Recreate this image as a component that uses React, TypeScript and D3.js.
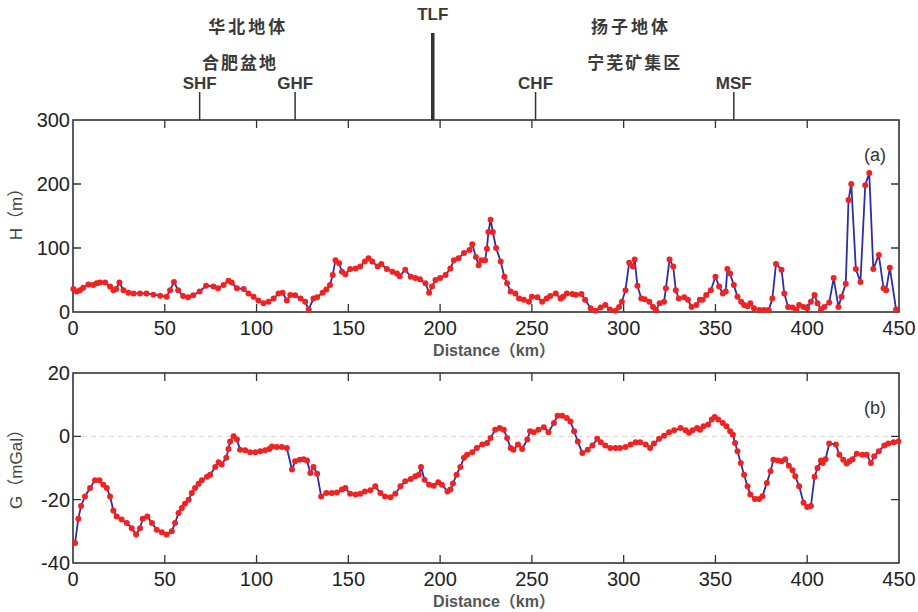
import React, { useRef, useEffect } from "react";
import * as d3 from "d3";

// elevation profile H (m) along distance (km)
const hProfile: [number, number][] = [
    [0.2, 36], [2, 32], [3.8, 34], [5.6, 38], [8.4, 43], [11, 42], [12.9, 45], [14.7, 46], [17.5, 46],
    [20.2, 40], [22, 34], [23.5, 36], [25.3, 46], [27.5, 34], [30.2, 30], [33, 29], [36.5, 29], [40, 29],
    [43.8, 27], [47.5, 25.5], [51, 24], [52.9, 34], [55, 47], [57.3, 34], [60, 25], [62.7, 23], [65.5, 26],
    [69, 32], [72.5, 41], [76.5, 40], [79, 37], [82, 42], [84.7, 49], [86.5, 46], [89.3, 37], [93, 36],
    [95.6, 29], [98.4, 24], [101, 18], [103.8, 13.5], [106.5, 16], [109.3, 21], [112, 29], [114.2, 30],
    [116.5, 18], [118.4, 26.5], [121, 26], [124, 21], [126.5, 16], [128.4, 4], [131, 21], [133, 23],
    [136, 30], [138, 35], [140, 42], [141.5, 58], [143, 81], [145, 76], [146.5, 63], [148.4, 59], [151, 67],
    [154, 68], [156.5, 71], [159, 79], [161, 84], [163, 79], [166, 71], [168, 75], [171, 67], [174, 63],
    [176.5, 60], [178, 56], [181, 66], [184, 55], [186.5, 53], [189, 51], [192, 45], [194, 30], [195.6, 40],
    [197.5, 50], [200, 53], [203, 58], [205.6, 68], [207.5, 81], [210, 84], [213, 92], [216, 97],
    [217.5, 106], [219.5, 86], [221, 73], [222.5, 81], [224.5, 81], [225.5, 99], [226.3, 125],
    [227.5, 144], [228.7, 125], [230.5, 100], [233, 79], [235, 55], [236.5, 45], [238.4, 32], [241, 29],
    [243, 21], [245.6, 19], [248.4, 16], [250, 24], [253, 23], [255.6, 16], [258, 21], [260, 25], [263, 29],
    [265.6, 21], [267, 24], [269, 29], [272, 28], [274, 27], [277, 28], [279, 19], [282, 6], [284.7, 2],
    [287.5, 7], [290, 11], [292.5, 4], [295.6, 2], [297.5, 8], [299, 16], [301, 34], [303, 77], [305, 71],
    [306, 82], [307.5, 41], [309.6, 21], [311.5, 20], [314, 16], [316, 8], [317.6, 3], [319.6, 13.5],
    [322, 16], [323, 37], [325, 82], [327, 71], [328.4, 34], [330, 21], [333, 23], [335, 19], [337, 8],
    [339.6, 11], [341.5, 19], [343, 19], [345, 26.5], [347.5, 34], [350, 55], [352, 40], [354, 29],
    [355.6, 32], [356.5, 67], [358, 60], [360, 42], [362, 24], [364, 16], [365.6, 11], [367.5, 9],
    [369, 13.5], [371, 6], [374, 3], [376.5, 3], [379, 3], [381, 21], [383, 75], [386, 66], [387.5, 29],
    [389.6, 8], [392, 7], [394, 4], [395.6, 11], [398, 8], [400, 6], [402, 16], [404, 26.5], [405.6, 13.5],
    [407.5, 4], [409.3, 8], [412, 15], [414.4, 53], [417, 8], [418.7, 24], [421, 44], [422.5, 175],
    [424, 200], [426.5, 67], [429, 47], [431.6, 198], [433.8, 217], [436, 67], [439, 89], [441.6, 37],
    [443, 34], [445, 69], [448.4, 4],
];

// gravity anomaly G (mGal) along distance (km)
const gProfile: [number, number][] = [
    [1.1, -33.7], [2.9, -26], [4.4, -22], [6.5, -19], [9.3, -16.3], [12, -13.9], [14.4, -13.9],
    [16.5, -15.3], [18.4, -16.3], [20.2, -19], [22, -23.4], [23.8, -25.3], [26.5, -26.3], [29.3, -27.4],
    [32, -29], [34.4, -31], [36.5, -29], [38, -26], [40.5, -25.3], [43, -27.4], [45.6, -29.5],
    [48.4, -30.3], [51, -31], [53.8, -30], [55.6, -27.4], [57.5, -24.2], [59.3, -22.6], [61, -21.3],
    [63, -20], [64.7, -17.9], [66.5, -16.3], [68.4, -15], [70.2, -13.9], [73, -12.8], [74.7, -12.1],
    [77.5, -9.7], [79.3, -8.2], [81, -8.9], [83.5, -6.8], [84.7, -4], [85.6, -1.6], [87.5, 0], [89.3, -1],
    [91, -4.2], [93.8, -4.4], [96.5, -5], [99.3, -5], [102, -4.7], [104.7, -4.4], [107, -4], [108.4, -3.2],
    [111, -3.4], [113.8, -3.4], [116.5, -3.7], [119.3, -10.5], [121, -7.9], [123.5, -7.4], [125.6, -7.2],
    [127.5, -7.6], [129.3, -11.6], [131, -9.7], [133, -11.8], [135.2, -19], [138, -17.9], [141, -17.9],
    [143.8, -17.7], [146.5, -16.8], [148.4, -16.3], [151, -18.1], [154, -18.4], [156.5, -18.1],
    [159, -17.4], [162, -17], [164.7, -15.8], [167.5, -17.9], [170, -19], [173, -19.2], [175.6, -18.1],
    [178.4, -15.8], [181, -14.2], [184, -13.5], [186.5, -12.6], [188.4, -12.1], [189.6, -9.7],
    [191.5, -13.7], [194, -15.3], [196.5, -15.6], [199, -14.5], [201, -15.3], [204, -17.4], [205.6, -16.8],
    [207, -14.9], [209, -12.1], [211, -9.7], [213, -6.8], [214.7, -5.8], [217.5, -5], [220, -3.7],
    [223, -2.6], [225.6, -2.1], [227.5, -0.5], [230, 2.1], [232.5, 2.6], [234.7, 2.1], [236.5, -0.5],
    [238.4, -3.7], [240, -4.2], [242.4, -2.6], [244.7, -4], [247.5, -1], [249, 1.6], [251, 1.3],
    [253.6, 2.1], [256.5, 2.9], [259, 1.3], [262, 4.2], [264, 6.5], [266.5, 6.5], [269, 5.8], [271, 4.7],
    [273, 1.6], [275, -1.6], [277.5, -5.3], [280.4, -4.2], [283, -2.9], [285.6, -0.8], [287.5, -1.9],
    [290, -2.9], [292.7, -3.7], [295.5, -3.7], [298, -3.7], [301, -3.4], [303.8, -2.6], [306.5, -1.9],
    [309, -1.9], [312, -2.6], [314.4, -3.7], [316.5, -2.3], [319.3, -0.8], [322, 0.2], [324.7, 1.3],
    [327.5, 1.9], [331, 2.6], [333.8, 1.9], [335.6, 1.1], [337.5, 1.9], [340, 2.6], [341.6, 2.1],
    [343.5, 3.2], [346, 3.7], [348, 5.3], [349.6, 6.1], [351.5, 5.3], [354, 4.2], [356, 3.2], [358, 1.6],
    [359.5, 0.5], [360.7, -2.1], [362, -4.7], [363.8, -8.4], [365.6, -12.1], [367.5, -15.8], [369, -18.4],
    [371.5, -19.8], [373.8, -19.8], [375.6, -18.9], [378, -14.7], [380, -11], [381.6, -7.4], [384, -7.6],
    [386, -7.9], [388, -7.2], [390, -9.3], [392, -10.7], [393.5, -12.6], [395.6, -15.8], [398, -21],
    [400, -22.3], [402, -22], [404, -12.8], [405.6, -10], [407.5, -7.6], [408.4, -8.4], [410, -7.2],
    [412, -2.3], [415.6, -2.6], [417.5, -5.8], [419.6, -7.4], [421.5, -8.6], [423, -7.9], [424.7, -7.2],
    [427, -5.5], [430, -5.8], [432.4, -5.8], [434.7, -8.4], [436.5, -6.3], [439, -4.7], [442, -2.9],
    [444.2, -2.3], [447, -1.9], [449.7, -1.6],
];

const xTicks = [0, 50, 100, 150, 200, 250, 300, 350, 400, 450];
const hTicks = [0, 100, 200, 300];
const gTicks = [-40, -20, 0, 20];

// faults along the profile (km)
const faultNames = ["SHF", "GHF", "TLF", "CHF", "MSF"];
const faultKm = [69, 121, 196, 252, 360];

// tectonic units / basins (label centre in km)
const unitNames = ["华北地体", "扬子地体"];
const unitKm = [95.5, 304];
const areaNames = ["合肥盆地", "宁芜矿集区"];
const areaKm = [91, 306];

const W = 918;
const H = 612;
const FONT = "'Liberation Sans', Arial, 'Noto Sans CJK SC', sans-serif";
const CJK = "'Noto Sans CJK SC', sans-serif";

const App: React.FC = () => {
    const svgRef = useRef<SVGSVGElement>(null);

    useEffect(() => {
        const svgEl = svgRef.current;
        if (!svgEl) return;
        const svg = d3.select(svgEl);
        svg.selectAll("*").remove();

        const left = 73;
        const right = 899;
        const x = d3.scaleLinear().domain([0, 450]).range([left, right]);

        const drawPanel = (
            data: [number, number][],
            yDomain: [number, number],
            yTicks: number[],
            top: number,
            bottom: number,
            tag: string,
            yLabel: string,
            labelY: number,
            zeroLine: boolean
        ) => {
            const y = d3.scaleLinear().domain(yDomain).range([bottom, top]);
            const g = svg.append("g");

            if (zeroLine) {
                g.append("line")
                    .attr("x1", left).attr("x2", right)
                    .attr("y1", y(0)).attr("y2", y(0))
                    .attr("stroke", "#d4d4d4")
                    .attr("stroke-width", 1)
                    .attr("stroke-dasharray", "5,4");
            }

            // frame
            g.append("rect")
                .attr("x", left).attr("y", top)
                .attr("width", right - left).attr("height", bottom - top)
                .attr("fill", "none")
                .attr("stroke", "#333")
                .attr("stroke-width", 1.6);

            const tl = 8;
            // x ticks bottom + top (inward)
            g.selectAll(".xt")
                .data(xTicks.slice(1, -1))
                .enter()
                .append("path")
                .attr("d", (d) => `M${x(d)},${bottom}v${-tl}M${x(d)},${top}v${tl}`)
                .attr("stroke", "#333")
                .attr("stroke-width", 1.3);
            // y ticks left + right (inward)
            g.selectAll(".yt")
                .data(yTicks.slice(1, -1))
                .enter()
                .append("path")
                .attr("d", (d) => `M${left},${y(d)}h${tl}M${right},${y(d)}h${-tl}`)
                .attr("stroke", "#333")
                .attr("stroke-width", 1.3);

            g.selectAll(".xl")
                .data(xTicks)
                .enter()
                .append("text")
                .attr("x", (d) => x(d))
                .attr("y", bottom + 23)
                .attr("text-anchor", "middle")
                .attr("font-family", FONT)
                .attr("font-size", 20)
                .attr("fill", "#222")
                .text((d) => d);

            g.selectAll(".yl")
                .data(yTicks)
                .enter()
                .append("text")
                .attr("x", left - 3)
                .attr("y", (d) => y(d) + 7)
                .attr("text-anchor", "end")
                .attr("font-family", FONT)
                .attr("font-size", 20)
                .attr("fill", "#222")
                .text((d) => d);

            g.append("text")
                .attr("x", 494)
                .attr("y", bottom + 44)
                .attr("text-anchor", "middle")
                .attr("font-family", FONT)
                .attr("font-weight", "bold")
                .attr("font-size", 16)
                .attr("fill", "#555")
                .text("Distance（km）");

            g.append("text")
                .attr("transform", `translate(22,${labelY}) rotate(-90)`)
                .attr("text-anchor", "middle")
                .attr("font-family", FONT)
                .attr("font-size", 17)
                .attr("fill", "#444")
                .text(yLabel);

            g.append("text")
                .attr("x", 875)
                .attr("y", top + 41)
                .attr("text-anchor", "middle")
                .attr("font-family", FONT)
                .attr("font-size", 18)
                .attr("fill", "#333")
                .text(tag);

            const line = d3
                .line<[number, number]>()
                .x((d) => x(d[0]))
                .y((d) => y(d[1]));

            g.append("path")
                .datum(data)
                .attr("d", line)
                .attr("fill", "none")
                .attr("stroke", "#2b2fa3")
                .attr("stroke-width", 1.8);

            g.selectAll(".pt")
                .data(data)
                .enter()
                .append("circle")
                .attr("cx", (d) => x(d[0]))
                .attr("cy", (d) => y(d[1]))
                .attr("r", 3)
                .attr("fill", "#f02222");
        };

        drawPanel(hProfile, [0, 300], hTicks, 120, 312, "(a)", "H（m）", 210, false);
        drawPanel(gProfile, [-40, 20], gTicks, 373, 563, "(b)", "G（mGal）", 465, true);

        // fault markers above panel (a)
        const faults = faultNames.map((n, i) => ({ name: n, km: faultKm[i] }));
        const fg = svg.append("g");
        fg.selectAll("line")
            .data(faults)
            .enter()
            .append("line")
            .attr("x1", (d) => x(d.km))
            .attr("x2", (d) => x(d.km))
            .attr("y1", (d) => (d.name === "TLF" ? 33 : 92))
            .attr("y2", 120)
            .attr("stroke", "#333")
            .attr("stroke-width", (d) => (d.name === "TLF" ? 3.5 : 1.5));
        fg.selectAll("text")
            .data(faults)
            .enter()
            .append("text")
            .attr("x", (d) => x(d.km))
            .attr("y", (d) => (d.name === "TLF" ? 20 : 89))
            .attr("text-anchor", "middle")
            .attr("font-family", FONT)
            .attr("font-weight", "bold")
            .attr("font-size", 17)
            .attr("fill", "#3a3a3a")
            .text((d) => d.name);

        svg.append("g")
            .selectAll("text")
            .data(unitNames.map((n, i) => ({ name: n, km: unitKm[i] })))
            .enter()
            .append("text")
            .attr("x", (d) => x(d.km))
            .attr("y", 33)
            .attr("text-anchor", "middle")
            .attr("font-family", CJK)
            .attr("font-weight", "bold")
            .attr("font-size", 17)
            .attr("letter-spacing", 3)
            .attr("fill", "#3a3a3a")
            .text((d) => d.name);

        svg.append("g")
            .selectAll("text")
            .data(areaNames.map((n, i) => ({ name: n, km: areaKm[i] })))
            .enter()
            .append("text")
            .attr("x", (d) => x(d.km))
            .attr("y", 69)
            .attr("text-anchor", "middle")
            .attr("font-family", CJK)
            .attr("font-weight", "bold")
            .attr("font-size", 17)
            .attr("letter-spacing", 2)
            .attr("fill", "#3a3a3a")
            .text((d) => d.name);
    }, []);

    return (
        <svg
            ref={svgRef}
            width={W}
            height={H}
            viewBox={`0 0 ${W} ${H}`}
            style={{ position: "absolute", left: 0, top: 0, background: "#fff" }}
        />
    );
};

export default App;
